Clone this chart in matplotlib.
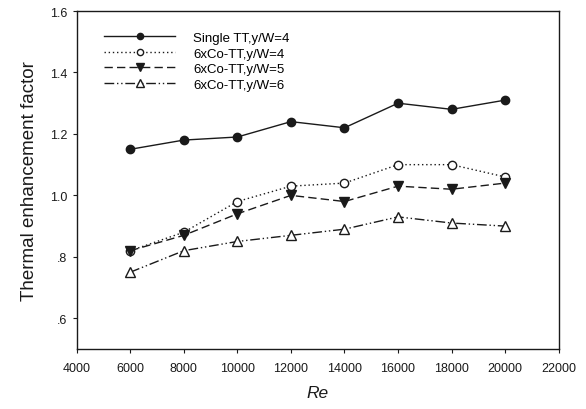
import matplotlib
matplotlib.use('Agg')
import matplotlib.pyplot as plt

plt.rcParams['font.family'] = ['Liberation Sans', 'DejaVu Sans']

re_vals = [6000, 8000, 10000, 12000, 14000, 16000, 18000, 20000]
single_tt_w4 = [1.15, 1.18, 1.19, 1.24, 1.22, 1.30, 1.28, 1.31]
co_tt_w4 = [0.82, 0.88, 0.98, 1.03, 1.04, 1.10, 1.10, 1.06]
co_tt_w5 = [0.82, 0.87, 0.94, 1.00, 0.98, 1.03, 1.02, 1.04]
co_tt_w6 = [0.75, 0.82, 0.85, 0.87, 0.89, 0.93, 0.91, 0.90]

x_ticks = [4000, 6000, 8000, 10000, 12000, 14000, 16000, 18000, 20000, 22000]
y_ticks = [0.6, 0.8, 1.0, 1.2, 1.4, 1.6]
y_labels = ['.6', '.8', '1.0', '1.2', '1.4', '1.6']

ink = '#1a1a1a'

fig = plt.figure(figsize=(5.86, 4.10), dpi=100)
ax = fig.add_axes([0.1309, 0.1463, 0.8225, 0.8244])

ax.plot(re_vals, single_tt_w4, color=ink, lw=1.0, ls='-',
        marker='o', ms=6, mfc=ink, mec=ink, label='Single TT,y/W=4')
ax.plot(re_vals, co_tt_w4, color=ink, lw=1.0, ls=(0, (1, 2)),
        marker='o', ms=6, mfc='white', mec=ink, label='6xCo-TT,y/W=4')
ax.plot(re_vals, co_tt_w5, color=ink, lw=1.0, ls=(0, (6, 3)),
        marker='v', ms=7, mfc=ink, mec=ink, label='6xCo-TT,y/W=5')
ax.plot(re_vals, co_tt_w6, color=ink, lw=1.0, ls=(0, (7, 2, 1, 2, 1, 2)),
        marker='^', ms=7, mfc='white', mec=ink, label='6xCo-TT,y/W=6')

ax.set_xlim(4000, 22000)
ax.set_ylim(0.5, 1.6)
ax.set_xticks(x_ticks)
ax.set_yticks(y_ticks)
ax.set_yticklabels(y_labels)
ax.tick_params(direction='out', length=3, width=0.8, labelsize=9,
               colors=ink, top=False, right=False)
ax.tick_params(axis='x', pad=6)
ax.tick_params(axis='y', pad=4)
for s in ax.spines.values():
    s.set_linewidth(1.0)
    s.set_color(ink)

ax.set_xlabel('Re', fontstyle='italic', fontsize=12.5, labelpad=8, color=ink)
ax.set_ylabel('Thermal enhancement factor', fontsize=13.5, labelpad=8, color=ink)

ax.legend(loc='upper left', bbox_to_anchor=(0.1775, 0.92),
          bbox_transform=fig.transFigure, frameon=False, borderpad=0,
          borderaxespad=0, fontsize=9.5, handlelength=5.4, labelspacing=0.25,
          handletextpad=1.35, markerscale=0.75)

fig.savefig('out.png', dpi=100)
